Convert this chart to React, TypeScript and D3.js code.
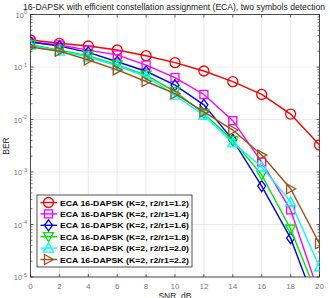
import React from 'react';
import * as d3 from 'd3';

const snr = [0, 2, 4, 6, 8, 10, 12, 14, 16, 18, 20];

const ratios = ['1.2', '1.4', '1.6', '1.8', '2.0', '2.2'];
const colors = ['#ff0000', '#ff00ff', '#0000ff', '#00e600', '#00ffff', '#a0501a'];
const markers = ['circle', 'square', 'diamond', 'tridown', 'triup', 'triright'];

const berR12 = [0.327, 0.283, 0.251, 0.211, 0.164, 0.121, 0.084, 0.0525, 0.030, 0.0127, 0.00327];
const berR14 = [0.30, 0.263, 0.21, 0.17, 0.109, 0.063, 0.030, 0.0095, 0.00155, 1.9e-4, 4.5e-6];
const berR16 = [0.30, 0.25, 0.19, 0.126, 0.083, 0.045, 0.019, 0.0041, 5.4e-4, 5.5e-5, 1.9e-6];
const berR18 = [0.27, 0.21, 0.165, 0.11, 0.07, 0.034, 0.013, 0.0040, 8.8e-4, 8.2e-5, 3.5e-6];
const berR20 = [0.26, 0.2, 0.155, 0.105, 0.066, 0.029, 0.012, 0.0036, 1.26e-3, 2.7e-4, 1.55e-5];
const berR22 = [0.24, 0.2, 0.136, 0.088, 0.053, 0.031, 0.014, 0.0063, 0.0021, 4.8e-4, 4.3e-5];

const series = [berR12, berR14, berR16, berR18, berR20, berR22];

const xTicks = [0, 2, 4, 6, 8, 10, 12, 14, 16, 18, 20];
const yExps = [0, -1, -2, -3, -4, -5];

const W = 330;
const H = 298;
const m = { left: 30.5, right: 319.5, top: 14.5, bottom: 277 };
const font = '"Liberation Sans", Arial, sans-serif';

function Marker({ type, x, y, color }: { type: string; x: number; y: number; color: string }) {
  const r = 5;
  const common = { fill: 'none', stroke: color, strokeWidth: 1.3 };
  if (type === 'circle') return <circle cx={x} cy={y} r={r} {...common} />;
  if (type === 'square') return <rect x={x - 4} y={y - 4} width={8} height={8} {...common} />;
  if (type === 'diamond')
    return <polygon points={`${x},${y - 5.5} ${x + 4},${y} ${x},${y + 5.5} ${x - 4},${y}`} {...common} />;
  if (type === 'tridown')
    return <polygon points={`${x - 5},${y - 4} ${x + 5},${y - 4} ${x},${y + 5}`} {...common} />;
  if (type === 'triup')
    return <polygon points={`${x - 5},${y + 4} ${x + 5},${y + 4} ${x},${y - 5}`} {...common} />;
  return <polygon points={`${x - 4},${y - 5} ${x - 4},${y + 5} ${x + 5},${y}`} {...common} />;
}

export default function App() {
  const x = d3.scaleLinear().domain([0, 20]).range([m.left, m.right]);
  const y = d3.scaleLog().domain([1e-5, 1]).range([m.bottom, m.top]);

  const line = d3
    .line<number>()
    .x((_, i) => x(snr[i]))
    .y((d) => y(d));

  const minor: number[] = [];
  for (let e = -5; e < 0; e++) {
    for (let k = 2; k <= 9; k++) minor.push(k * Math.pow(10, e));
  }

  const legX = 37;
  const legY = 195;
  const legW = 155;
  const legH = 72;
  const rowH = 11.4;

  return (
    <svg width={W} height={H} style={{ position: 'absolute', left: 0, top: 0 }}>
      <rect x={0} y={0} width={W} height={H} fill="#ffffff" />
      <defs>
        <clipPath id="plot">
          <rect x={m.left} y={m.top} width={m.right - m.left} height={m.bottom - m.top} />
        </clipPath>
      </defs>

      {/* grid */}
      {xTicks.map((t) => (
        <line key={'gx' + t} x1={x(t)} x2={x(t)} y1={m.top} y2={m.bottom} stroke="#e6e6e6" strokeWidth={0.8} />
      ))}
      {yExps.map((e) => (
        <line key={'gy' + e} x1={m.left} x2={m.right} y1={y(Math.pow(10, e))} y2={y(Math.pow(10, e))} stroke="#e6e6e6" strokeWidth={0.8} />
      ))}

      {/* axis box */}
      <rect x={m.left} y={m.top} width={m.right - m.left} height={m.bottom - m.top} fill="none" stroke="#262626" strokeWidth={0.8} />

      {/* ticks */}
      {xTicks.map((t) => (
        <g key={'tx' + t}>
          <line x1={x(t)} x2={x(t)} y1={m.bottom} y2={m.bottom - 3} stroke="#262626" strokeWidth={0.7} />
          <line x1={x(t)} x2={x(t)} y1={m.top} y2={m.top + 3} stroke="#262626" strokeWidth={0.7} />
          <text x={x(t)} y={289} textAnchor="middle" fontSize={8} fill="#777" fontFamily={font}>
            {t}
          </text>
        </g>
      ))}
      {yExps.map((e) => (
        <g key={'ty' + e}>
          <line x1={m.left} x2={m.left + 3} y1={y(Math.pow(10, e))} y2={y(Math.pow(10, e))} stroke="#262626" strokeWidth={0.7} />
          <line x1={m.right} x2={m.right - 3} y1={y(Math.pow(10, e))} y2={y(Math.pow(10, e))} stroke="#262626" strokeWidth={0.7} />
          <text x={27} y={y(Math.pow(10, e)) + 3} textAnchor="end" fontSize={7.5} fill="#777" fontFamily={font}>
            10
            <tspan dy={-3.5} fontSize={5.5}>
              {e}
            </tspan>
          </text>
        </g>
      ))}
      {minor.map((v, i) => (
        <g key={'mn' + i}>
          <line x1={m.left} x2={m.left + 2} y1={y(v)} y2={y(v)} stroke="#262626" strokeWidth={0.6} />
          <line x1={m.right} x2={m.right - 2} y1={y(v)} y2={y(v)} stroke="#262626" strokeWidth={0.6} />
        </g>
      ))}

      {/* series */}
      <g clipPath="url(#plot)">
        {series.map((s, si) => (
          <g key={'s' + si}>
            <path d={line(s) || ''} fill="none" stroke={colors[si]} strokeWidth={1.4} />
            {s.map((v, i) =>
              v >= 1e-5 ? <Marker key={i} type={markers[si]} x={x(snr[i])} y={y(v)} color={colors[si]} /> : null
            )}
          </g>
        ))}
      </g>

      {/* labels */}
      <text x={174} y={9.5} textAnchor="middle" fontSize={9} fill="#1a1a1a" fontFamily={font} textLength={302} lengthAdjust="spacingAndGlyphs">
        16-DAPSK with efficient constellation assignment (ECA), two symbols detection
      </text>
      <text x={175} y={299} textAnchor="middle" fontSize={8.5} fill="#262626" fontFamily={font}>
        SNR, dB
      </text>
      <text transform="translate(9,146) rotate(-90)" textAnchor="middle" fontSize={8.5} fill="#262626" fontFamily={font}>
        BER
      </text>

      {/* legend */}
      <rect x={legX} y={legY} width={legW} height={legH} fill="#ffffff" stroke="#262626" strokeWidth={0.8} />
      {ratios.map((r, i) => {
        const cy = legY + 7.5 + i * rowH;
        return (
          <g key={'lg' + i}>
            <line x1={legX + 3.5} x2={legX + 20} y1={cy} y2={cy} stroke={colors[i]} strokeWidth={1.4} />
            <Marker type={markers[i]} x={legX + 11.5} y={cy} color={colors[i]} />
            <text x={legX + 23} y={cy + 3} fontSize={8} fontWeight="bold" fill="#000" fontFamily={font} textLength={129} lengthAdjust="spacingAndGlyphs">
              {`ECA 16-DAPSK (K=2, r2/r1=${r})`}
            </text>
          </g>
        );
      })}
    </svg>
  );
}
